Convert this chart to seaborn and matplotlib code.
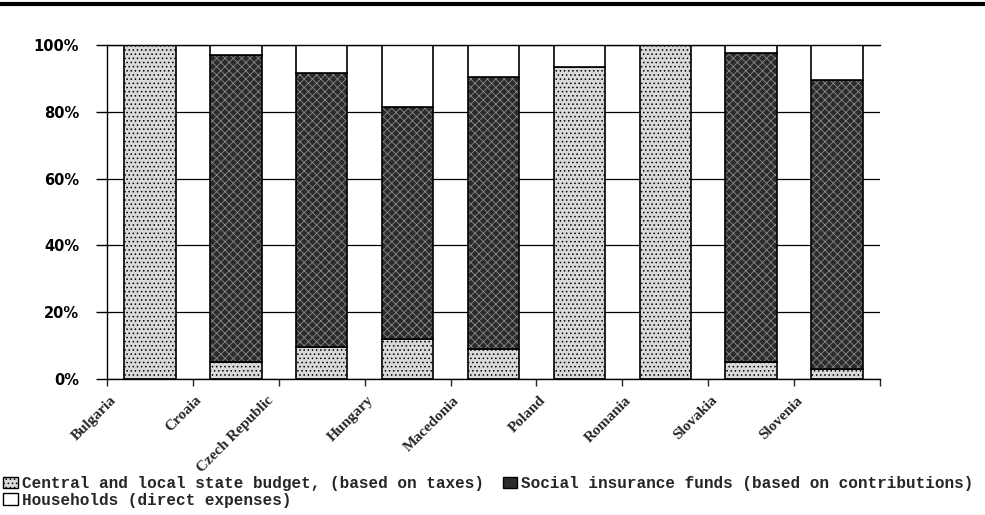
import matplotlib
matplotlib.use('Agg')
import matplotlib.pyplot as plt
import matplotlib.transforms as mtransforms
from matplotlib.patches import Patch
from matplotlib.lines import Line2D
import seaborn as sns
import numpy as np

countries = ['Bulgaria', 'Croaia', 'Czech Republic', 'Hungary', 'Macedonia',
             'Poland', 'Romania', 'Slovakia', 'Slovenia']
state_budget = [100, 5, 9.5, 12, 9, 93.5, 100, 5, 3]
insurance_funds = [0, 92, 82, 69.5, 81.5, 0, 0, 92.5, 86.5]
households = [0, 3, 8.5, 18.5, 9.5, 6.5, 0, 2.5, 10.5]

yticks = [0, 20, 40, 60, 80, 100]
ytick_labels = ['0%', '20%', '40%', '60%', '80%', '100%']
series_labels = ['Central and local state budget, (based on taxes)',
                 'Social insurance funds (based on contributions)',
                 'Households (direct expenses)']

sns.set_style('white')
plt.rcParams['hatch.linewidth'] = 0.6

light = '#d9d9d9'
dark = '#2b2b2b'

fig = plt.figure(figsize=(9.85, 5.15), dpi=100)
ax = fig.add_axes([0.1086, 0.2641, 0.7848, 0.6485])

b1 = np.array(state_budget)
b2 = b1 + np.array(insurance_funds)

sns.barplot(x=countries, y=state_budget, color=light, hatch='....',
            edgecolor='black', linewidth=1.2, width=0.6, saturation=1, ax=ax)
# dark speckled fill, outlined afterwards
sns.barplot(x=countries, y=insurance_funds, bottom=b1, color=dark, hatch='xxxx',
            edgecolor='#8a8a8a', linewidth=0, width=0.6, saturation=1, ax=ax)
sns.barplot(x=countries, y=insurance_funds, bottom=b1, fill=False, color='black',
            linewidth=1.2, width=0.6, ax=ax)
sns.barplot(x=countries, y=households, bottom=b2, color='white',
            edgecolor='black', linewidth=1.2, width=0.6, saturation=1, ax=ax)

ax.set_xlim(-0.5, len(countries) - 0.5)
ax.set_ylim(0, 100)
ax.set_yticks(yticks)
ax.set_yticklabels(ytick_labels, fontfamily='DejaVu Sans', fontweight='bold', fontsize=10.5)
ax.yaxis.grid(True, color='black', linewidth=0.9)
ax.set_axisbelow(True)

for s in ['left', 'bottom', 'top']:
    ax.spines[s].set_visible(True)
    ax.spines[s].set_color('black')
    ax.spines[s].set_linewidth(1.0)
ax.spines['right'].set_visible(False)

ax.tick_params(axis='y', direction='out', length=8, width=1, pad=12, left=True, colors='black')
# category ticks sit on the boundaries between bars
ax.set_xticks(np.arange(len(countries) + 1) - 0.5, minor=True)
ax.tick_params(axis='x', which='minor', direction='out', length=5, width=1, bottom=True)
ax.tick_params(axis='x', which='major', length=0, pad=14)
ax.set_xticks(range(len(countries)))
ax.set_xticklabels(countries, rotation=45, ha='right', va='center', rotation_mode='anchor',
                   fontfamily='Liberation Serif', fontweight='bold', fontsize=11)
for lab in ax.get_xticklabels():
    dx = -0.50 if lab.get_text() == 'Czech Republic' else -0.36
    lab.set_transform(lab.get_transform() +
                      mtransforms.ScaledTranslation(dx, 0, fig.dpi_scale_trans))
ax.set_xlabel('')
ax.set_ylabel('')

handles = [Patch(facecolor=light, edgecolor='black', hatch='....'),
           Patch(facecolor='white', edgecolor='black'),
           Patch(facecolor=dark, edgecolor='black')]
labels = [series_labels[0], series_labels[2], series_labels[1]]
fig.legend(handles, labels, loc='upper left', bbox_to_anchor=(0.0, 0.082), ncol=2,
           frameon=False, prop={'family': 'Liberation Mono', 'weight': 'bold', 'size': 11.5},
           handlelength=0.9, handleheight=0.7, handletextpad=0.25,
           columnspacing=1.2, labelspacing=0.1, borderaxespad=0, borderpad=0.2)

fig.add_artist(Line2D([0, 1], [0.993, 0.993], color='black', linewidth=3,
                      transform=fig.transFigure))

fig.savefig('out.png', dpi=100)
